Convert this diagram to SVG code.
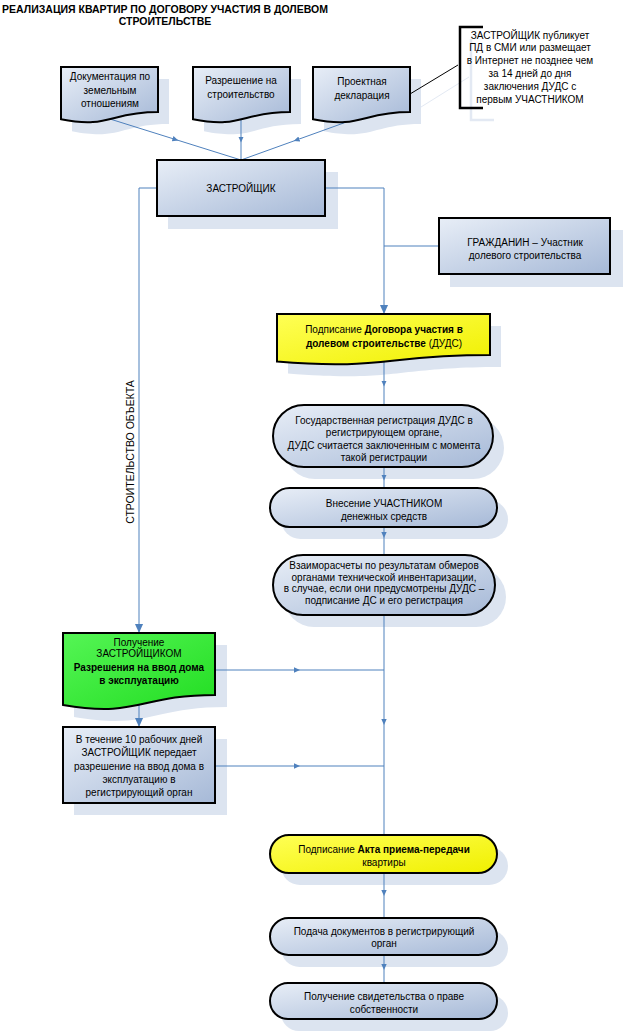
<svg xmlns="http://www.w3.org/2000/svg" width="623" height="1036" viewBox="0 0 623 1036">
<style>
.t{font-family:"Liberation Sans",Arial,sans-serif;font-size:10px;fill:#000;text-anchor:middle}
.b{font-weight:bold}
.ti{font-size:10.5px}
.bx{stroke:#000;stroke-width:2}
.blue{fill:url(#gb)}
.yel{fill:url(#gy)}
.grn{fill:url(#gg)}
.sh{fill:#dce4f0;stroke:none}
.c{fill:none;stroke:#4f81bd;stroke-width:1}
.cm{marker-mid:url(#am)}
.ce{marker-end:url(#ae)}
</style>
<defs>
<linearGradient id="gb" x1="0" y1="0" x2="1" y2="1"><stop offset="0" stop-color="#e8eef7"/><stop offset="1" stop-color="#a6b9d7"/></linearGradient>
<linearGradient id="gy" x1="0" y1="0" x2="1" y2="1"><stop offset="0" stop-color="#ffff55"/><stop offset="1" stop-color="#f0f000"/></linearGradient>
<linearGradient id="gg" x1="0" y1="0" x2="1" y2="1"><stop offset="0" stop-color="#55f555"/><stop offset="1" stop-color="#22dd22"/></linearGradient>
<marker id="am" viewBox="0 0 10 10" refX="5" refY="5" markerWidth="6" markerHeight="6" markerUnits="userSpaceOnUse" orient="auto"><path d="M0,0.5 L10,5 L0,9.5 Z" fill="#4f81bd"/></marker>
<marker id="ae" viewBox="0 0 10 10" refX="10" refY="5" markerWidth="9" markerHeight="9" markerUnits="userSpaceOnUse" orient="auto"><path d="M0,0.5 L10,5 L0,9.5 Z" fill="#4f81bd"/></marker>
</defs>
<rect width="623" height="1036" fill="#fff"/>

<g id="title">
<text class="t b ti" x="165" y="13">РЕАЛИЗАЦИЯ КВАРТИР ПО ДОГОВОРУ УЧАСТИЯ В ДОЛЕВОМ</text>
<text class="t b ti" x="165" y="25">СТРОИТЕЛЬСТВЕ</text>
</g>

<g id="shadows">
<path class="sh" d="M72,79 H169 V124 C120.5,124 120.5,141 72,131.3 Z"/>
<path class="sh" d="M204,79 H301 V124 C252.5,124 252.5,141 204,131.3 Z"/>
<path class="sh" d="M324,79 H421 V124 C372.5,124 372.5,141 324,131.3 Z"/>
<rect class="sh" x="168" y="172" width="170" height="57"/>
<rect class="sh" x="450" y="230" width="173" height="57"/>
<path class="sh" d="M288,326 H501 V367 C394.5,367 394.5,382.5 288,373.6 Z"/>
<rect class="sh" x="284" y="417" width="220" height="62" rx="31"/>
<rect class="sh" x="281" y="500" width="227" height="39" rx="19.5"/>
<rect class="sh" x="284" y="567" width="222" height="60" rx="30"/>
<path class="sh" d="M74,645 H227 V707 C150,707 150,730 74,717 Z"/>
<rect class="sh" x="74" y="739" width="153" height="76"/>
<rect class="sh" x="281" y="847" width="227" height="38" rx="19"/>
<rect class="sh" x="281" y="930" width="227" height="37" rx="18.5"/>
<rect class="sh" x="281" y="995" width="227" height="36" rx="18"/>
<path d="M471,39 V120 H494" fill="none" stroke="#e3e9f3" stroke-width="2.5"/>
<line x1="421" y1="107" x2="469" y2="77" stroke="#e3e9f3" stroke-width="1"/>
</g>

<g id="connectors">
<path class="c cm" d="M110,119 L175.5,139.5 L241,160"/>
<path class="c cm" d="M241,119 L241,139.5 L241,160"/>
<path class="c cm" d="M352,120 L296.5,140 L241,160"/>
<path class="c ce" d="M157,188 H139 V633" stroke-width="1.3"/>
<path class="c ce" d="M325,188 H384 V314" stroke-width="2"/>
<path class="c" d="M439,246 H384" stroke-width="1.3"/>
<path class="c cm" d="M384,362 L384,383.5 L384,405"/>
<path class="c cm" d="M384,467 L384,477.5 L384,488"/>
<path class="c cm" d="M384,527 L384,535 L384,555"/>
<path class="c cm" d="M384,615 L384,722 L384,835"/>
<path class="c cm" d="M215,670 L297,670 L384,670"/>
<path class="c cm" d="M215,766 L297,766 L384,766"/>
<path class="c ce" d="M139,705 V727" stroke-width="1.3"/>
<path class="c cm" d="M384,873 L384,893 L384,918"/>
<path class="c cm" d="M384,955 L384,967 L384,983"/>
<line x1="410" y1="94" x2="458" y2="65" stroke="#000" stroke-width="1"/>
</g>

<g id="doc1">
<path class="bx blue" d="M61,67 H158 V112 C109.5,112 109.5,129 61,119.3 Z"/>
<text class="t" x="110" y="80">Документация по</text>
<text class="t" x="110" y="94">земельным</text>
<text class="t" x="110" y="107">отношениям</text>
</g>
<g id="doc2">
<path class="bx blue" d="M193,67 H290 V112 C241.5,112 241.5,129 193,119.3 Z"/>
<text class="t" x="241" y="84">Разрешение на</text>
<text class="t" x="241" y="98">строительство</text>
</g>
<g id="doc3">
<path class="bx blue" d="M313,67 H410 V112 C361.5,112 361.5,129 313,119.3 Z"/>
<text class="t" x="362" y="85">Проектная</text>
<text class="t" x="362" y="99">декларация</text>
</g>

<g id="note">
<path d="M483,27 H460 V108 H483" fill="none" stroke="#000" stroke-width="2.5"/>
<text class="t" x="530" y="38.5">ЗАСТРОЙЩИК публикует</text>
<text class="t" x="530" y="51">ПД в СМИ или размещает</text>
<text class="t" x="530" y="64">в Интернет не позднее чем</text>
<text class="t" x="530" y="76.5">за 14 дней до дня</text>
<text class="t" x="530" y="89.5">заключения ДУДС с</text>
<text class="t" x="530" y="102.5">первым УЧАСТНИКОМ</text>
</g>

<g id="zastr">
<rect class="bx blue" x="157" y="160" width="168" height="56"/>
<text class="t" x="241" y="192">ЗАСТРОЙЩИК</text>
</g>

<g id="grazhd">
<rect class="bx blue" x="439" y="218" width="171" height="56"/>
<text class="t" x="525" y="245.5">ГРАЖДАНИН – Участник</text>
<text class="t" x="525" y="259">долевого строительства</text>
</g>

<g id="duds">
<path class="bx yel" d="M277,314 H490 V355 C383.5,355 383.5,370.5 277,361.6 Z"/>
<text class="t" x="384" y="332.5">Подписание <tspan class="b">Договора участия в</tspan></text>
<text class="t" x="384" y="346.5"><tspan class="b">долевом строительстве</tspan> (ДУДС)</text>
</g>

<g id="gosreg">
<rect class="bx blue" x="273" y="405" width="220" height="62" rx="31"/>
<text class="t" x="384" y="423.5">Государственная регистрация ДУДС в</text>
<text class="t" x="384" y="436">регистрирующем органе,</text>
<text class="t" x="384" y="448.5">ДУДС считается заключенным с момента</text>
<text class="t" x="384" y="461">такой регистрации</text>
</g>

<g id="vnesenie">
<rect class="bx blue" x="270" y="488" width="227" height="39" rx="19.5"/>
<text class="t" x="384" y="506.5">Внесение УЧАСТНИКОМ</text>
<text class="t" x="384" y="519.5">денежных средств</text>
</g>

<g id="vzaimo">
<rect class="bx blue" x="273" y="555" width="222" height="60" rx="30"/>
<text class="t" x="384" y="568.5">Взаиморасчеты по результатам обмеров</text>
<text class="t" x="384" y="580.5">органами технической инвентаризации,</text>
<text class="t" x="384" y="592">в случае, если они предусмотрены ДУДС –</text>
<text class="t" x="384" y="604">подписание ДС и его регистрация</text>
</g>

<g id="green">
<path class="bx grn" d="M63,633 H215 V695 C139,695 139,718 63,705 Z"/>
<text class="t" x="139" y="645.5">Получение</text>
<text class="t" x="139" y="657">ЗАСТРОЙЩИКОМ</text>
<text class="t b" x="139" y="670.5">Разрешения на ввод дома</text>
<text class="t b" x="139" y="683.5">в эксплуатацию</text>
</g>

<g id="vtechenie">
<rect class="bx blue" x="63" y="727" width="152" height="76"/>
<text class="t" x="139" y="742.5">В течение 10 рабочих дней</text>
<text class="t" x="139" y="756">ЗАСТРОЙЩИК передает</text>
<text class="t" x="139" y="769.5">разрешение на ввод дома в</text>
<text class="t" x="139" y="782.5">эксплуатацию в</text>
<text class="t" x="139" y="796">регистрирующий орган</text>
</g>

<g id="akt">
<rect class="bx yel" x="270" y="835" width="227" height="38" rx="19"/>
<text class="t" x="384" y="852.5">Подписание <tspan class="b">Акта приема-передачи</tspan></text>
<text class="t" x="384" y="865.5">квартиры</text>
</g>

<g id="podacha">
<rect class="bx blue" x="270" y="918" width="227" height="37" rx="18.5"/>
<text class="t" x="384" y="934.5">Подача документов в регистрирующий</text>
<text class="t" x="384" y="947">орган</text>
</g>

<g id="svid">
<rect class="bx blue" x="270" y="983" width="227" height="36" rx="18"/>
<text class="t" x="384" y="999.5">Получение свидетельства о праве</text>
<text class="t" x="384" y="1012.5">собственности</text>
</g>

<g id="label">
<text class="t ti" transform="translate(133.5,452) rotate(-90)" x="0" y="0">СТРОИТЕЛЬСТВО ОБЪЕКТА</text>
</g>
</svg>
